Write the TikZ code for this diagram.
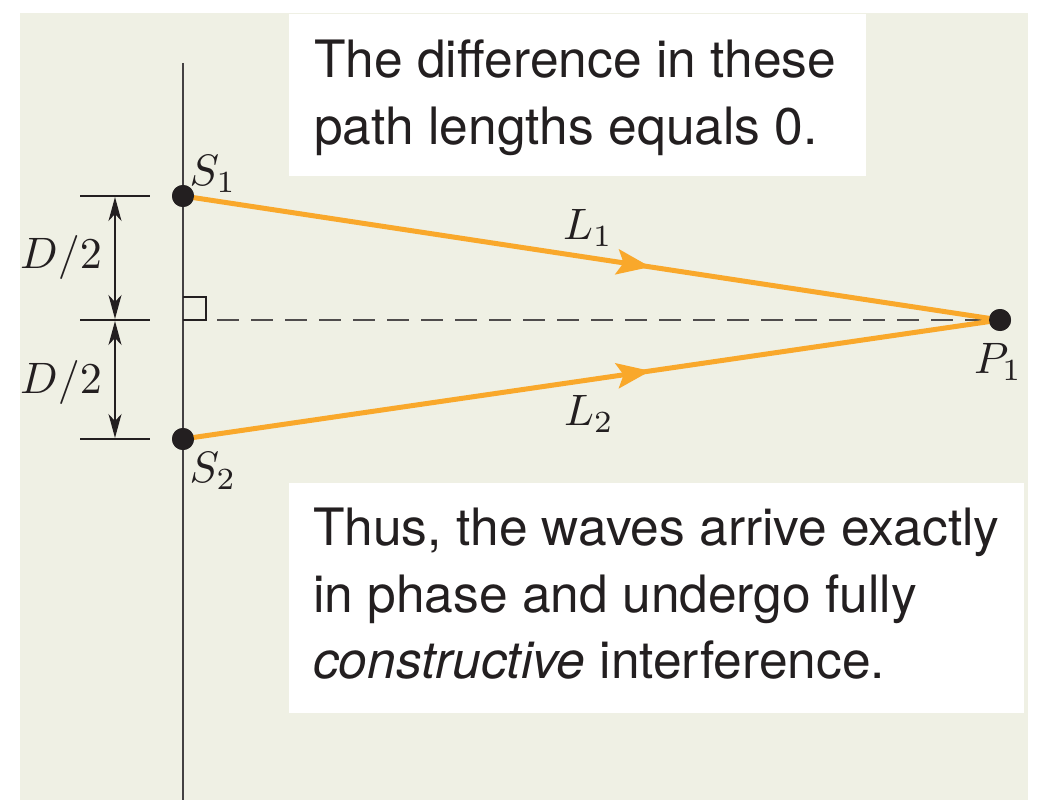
\documentclass[tikz,border=0pt]{standalone}
\usepackage{graphicx}
\usepackage{fontspec}
\setsansfont{TeX Gyre Heros}
\usetikzlibrary{arrows.meta,decorations.markings}
\definecolor{bg}{HTML}{EFF0E4}
\definecolor{ray}{HTML}{F9A82B}
\definecolor{ink}{HTML}{231F20}
\newcommand{\bigmath}[1]{\scalebox{4.4}{$#1$}}
\tikzset{
  captiontext/.style={font=\sffamily\fontsize{51.5}{62}\selectfont, anchor=base west, inner sep=0pt, text=ink},
  lab/.style={font=\fontsize{10}{12}\selectfont, inner sep=0pt, text=ink},
  raypath/.style={ray, line width=5pt, postaction={decorate}, decoration={markings, mark=at position 0.572 with {\fill[ray] (0,0) -- (-34pt,13pt) -- (-27pt,0) -- (-34pt,-13pt) -- cycle;}}},
  dimline/.style={ink, line width=1.4pt},
  dimarrow/.style={ink, line width=1.4pt, {Stealth[length=24pt,width=13pt,inset=7pt]}-{Stealth[length=24pt,width=13pt,inset=7pt]}},
  dot/.style={circle, fill=ink, minimum size=22pt, inner sep=0pt}
}
\begin{document}
\begin{tikzpicture}[x=1pt,y=-1pt]
\useasboundingbox (0,0) rectangle (1038,802);
\fill[white] (0,0) rectangle (1038,802);
\fill[bg] (20,13) rectangle (1028,800);
\fill[white] (289,14) rectangle (866,176);
\fill[white] (289,483) rectangle (1024,713);
% vertical screen
\draw[ink!85, line width=1.5pt] (183,63) -- (183,800);
% coordinates
\node[dot] (s1) at (183,196) {};
\node[dot] (s2) at (183,439) {};
\node[dot] (p1) at (1000,320) {};
\coordinate (o) at (183,320);
% dashed axis and right angle
\draw[ink!80, line width=1.4pt, dash pattern=on 22pt off 12pt] (217,320) -- (p1.center);
\draw[ink, line width=1.4pt] (183,297) -- (206,297) -- (206,320) -- (183,320);
% rays
\draw[raypath] (s1.center) -- (p1.center);
\draw[raypath] (s2.center) -- (p1.center);
\node[dot] at (p1) {};
\node[dot] at (s1) {};
\node[dot] at (s2) {};
% dimension lines
\coordinate (t1l) at (80,196); \coordinate (t1r) at (150,196);
\coordinate (t2l) at (80,320); \coordinate (t2r) at (150,320);
\coordinate (t3l) at (80,439); \coordinate (t3r) at (150,439);
\draw[dimline] (t1l) -- (t1r);
\draw[dimline] (t2l) -- (t2r);
\draw[dimline] (t3l) -- (t3r);
\coordinate (a1) at (115,197); \coordinate (a2) at (115,319);
\coordinate (a3) at (115,321); \coordinate (a4) at (115,438);
\draw[dimarrow] (a1) -- (a2);
\draw[dimarrow] (a3) -- (a4);
% labels
\node[lab] (d1) at (61,258) {\bigmath{D/2}};
\node[lab] (d2) at (61,382) {\bigmath{D/2}};
\node[lab] (ls1) at (213,174) {\bigmath{S_1}};
\node[lab] (ls2) at (213,471) {\bigmath{S_2}};
\node[lab] (l1) at (588,228) {\bigmath{L_1}};
\node[lab] (l2) at (589,414) {\bigmath{L_2}};
\node[lab] (lp1) at (998,362) {\bigmath{P_1}};
% captions
\node[captiontext] (c1) at (314,78) {The difference in these};
\node[captiontext] (c2) at (314,145) {path lengths equals 0.};
\node[captiontext] (c3) at (313,545) {Thus, the waves arrive exactly};
\node[captiontext] (c4) at (313,612) {in phase and undergo fully};
\node[captiontext] (c5) at (313,678) {\textit{constructive} interference.};
\end{tikzpicture}
\end{document}
